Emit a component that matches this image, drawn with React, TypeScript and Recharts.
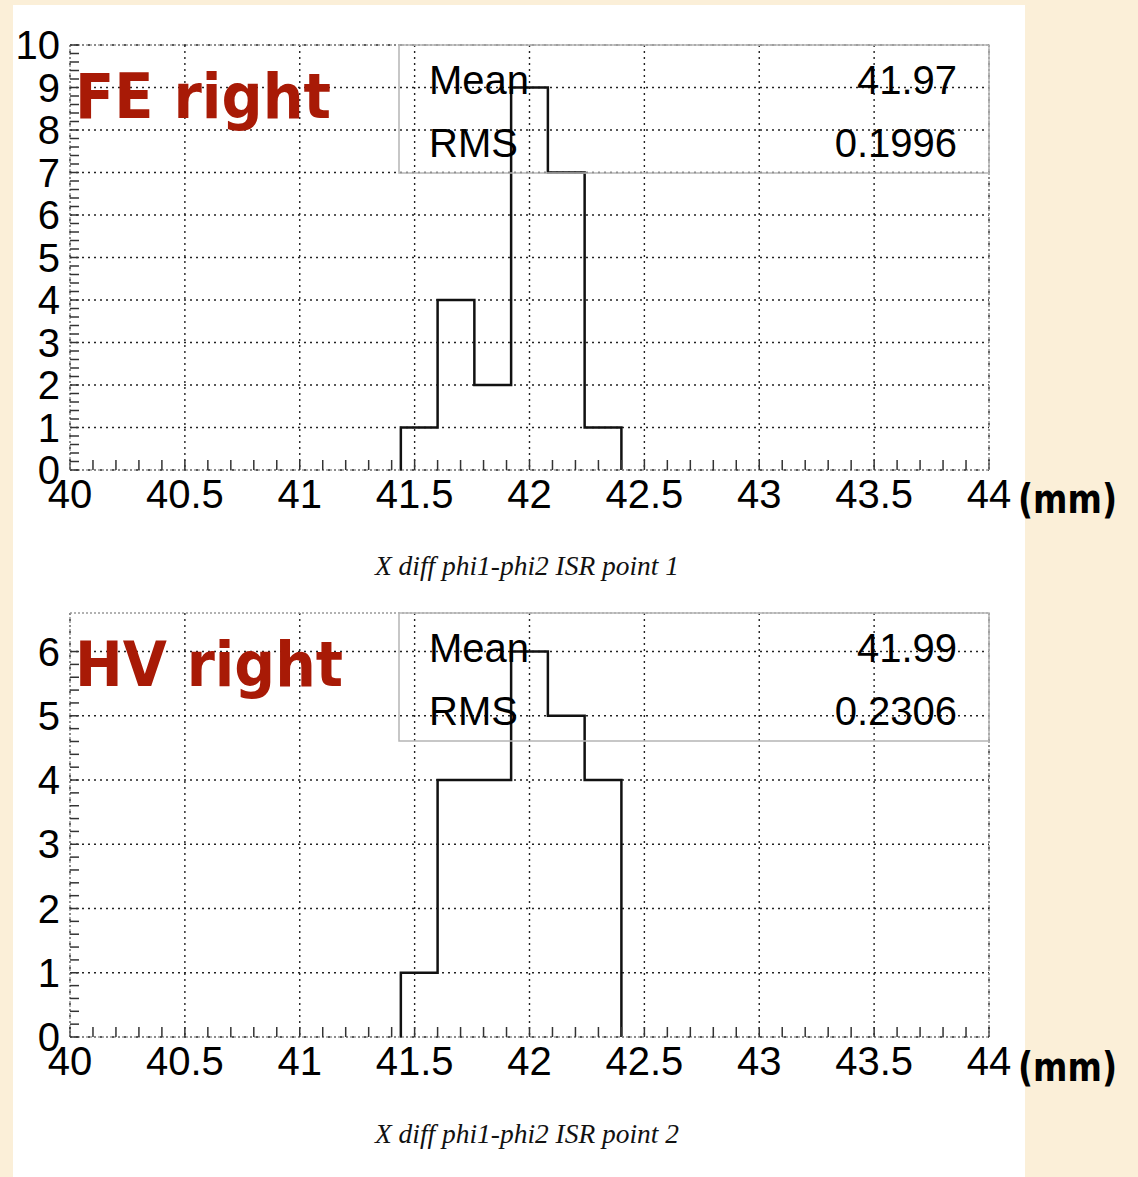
import { ComposedChart, Line, XAxis, YAxis, CartesianGrid } from "recharts";

// histogram bins that hold entries (bin width 0.16 mm, range 40-44)
const binEdges = [41.44, 41.6, 41.76, 41.92, 42.08, 42.24, 42.4];
const countsFE = [1, 4, 2, 9, 7, 1];
const countsHV = [1, 4, 4, 6, 5, 4];

const xTicks = [40, 40.5, 41, 41.5, 42, 42.5, 43, 43.5, 44];
const yTicksFE = [0, 1, 2, 3, 4, 5, 6, 7, 8, 9, 10];
const yTicksHV = [0, 1, 2, 3, 4, 5, 6];

const statsFE = { mean: "41.97", rms: "0.1996" };
const statsHV = { mean: "41.99", rms: "0.2306" };

const W = 1138;
const H = 600;
const GRID = "#222";
const FRAME = "#999";

function range(a: number, b: number, step: number) {
  const out: number[] = [];
  for (let v = a; v <= b + 1e-9; v += step) out.push(Math.round(v * 100) / 100);
  return out;
}

function stepPoints(edges: number[], counts: number[]) {
  const pts = [{ x: edges[0], y: 0 }];
  counts.forEach((c, i) => pts.push({ x: edges[i], y: c }));
  pts.push({ x: edges[edges.length - 1], y: 0 });
  return pts;
}

type HistProps = {
  counts: number[];
  yMax: number;
  yTicks: number[];
  label: string;
  title: string;
  stats: { mean: string; rms: string };
  top: number;
  marginBottom: number;
};

const tickFont = { fill: "#000", fontSize: 40, fontFamily: "'Liberation Sans', Arial, sans-serif" };
const noLabel = () => <g />;
const xMinor = range(40, 44, 0.1);
const xLabel = (v: number) => (xTicks.some((t) => Math.abs(t - v) < 1e-6) ? String(v) : "");

function Hist({ counts, yMax, yTicks, label, title, stats, top, marginBottom }: HistProps) {
  const data = stepPoints(binEdges, counts);
  return (
    <div style={{ position: "absolute", left: 0, top, width: W, height: H }}>
      <ComposedChart
        width={W}
        height={H}
        data={data}
        margin={{ top: 44, right: 148, bottom: marginBottom, left: 69 }}
      >
        <CartesianGrid
          stroke={GRID}
          strokeDasharray="2 4"
          strokeWidth={1.4}
          horizontalValues={yTicks}
          verticalValues={xTicks}
        />
        <XAxis
          dataKey="x"
          type="number"
          domain={[40, 44]}
          ticks={xMinor}
          tickFormatter={xLabel}
          interval={0}
          height={1}
          tickSize={-10}
          tickMargin={20}
          tickLine={{ stroke: "#333", strokeWidth: 1.5 }}
          tick={tickFont}
          axisLine={{ stroke: FRAME, strokeDasharray: "2 2", strokeWidth: 1.5 }}
          allowDataOverflow
        />
        <XAxis
          xAxisId="frame"
          orientation="top"
          type="number"
          domain={[40, 44]}
          height={1}
          tick={false}
          tickLine={false}
          axisLine={{ stroke: FRAME, strokeDasharray: "2 2", strokeWidth: 1.5 }}
          allowDataOverflow
        />
        <YAxis
          type="number"
          domain={[0, yMax]}
          ticks={yTicks}
          interval={0}
          width={1}
          tickLine={false}
          tickSize={0}
          tickMargin={10}
          tick={tickFont}
          axisLine={{ stroke: FRAME, strokeDasharray: "2 2", strokeWidth: 1.5 }}
          allowDataOverflow
        />
        <YAxis
          yAxisId="minor"
          type="number"
          domain={[0, yMax]}
          ticks={range(0, Math.floor(yMax), 0.2)}
          interval={0}
          width={1}
          mirror
          tick={noLabel}
          tickSize={9}
          tickLine={{ stroke: "#333", strokeWidth: 1.5 }}
          axisLine={false}
          allowDataOverflow
        />
        <YAxis
          yAxisId="frame"
          orientation="right"
          type="number"
          domain={[0, yMax]}
          width={1}
          tick={false}
          tickLine={false}
          axisLine={{ stroke: FRAME, strokeDasharray: "2 2", strokeWidth: 1.5 }}
          allowDataOverflow
        />
        <Line
          type="stepAfter"
          dataKey="y"
          stroke="#111"
          strokeWidth={2.5}
          dot={false}
          isAnimationActive={false}
        />
      </ComposedChart>
      <svg
        width={W}
        height={H}
        style={{ position: "absolute", left: 0, top: 0, pointerEvents: "none" }}
      >
        <rect x={399} y={45} width={590} height={128} fill="none" stroke="#b5b5b5" strokeWidth={1.5} />
        <g fontFamily="'Liberation Sans', Arial, sans-serif" fontSize={40} fill="#000">
          <text x={429} y={94}>Mean</text>
          <text x={429} y={157}>RMS</text>
          <text x={957} y={94} textAnchor="end">{stats.mean}</text>
          <text x={957} y={157} textAnchor="end">{stats.rms}</text>
        </g>
        <text
          x={75}
          y={118}
          fontFamily="'Comic Sans MS', 'DejaVu Sans', sans-serif"
          fontWeight="bold"
          fontSize={62}
          fill="#a81a06"
          textLength={label.startsWith("FE") ? 256 : 268}
          lengthAdjust="spacingAndGlyphs"
        >
          {label}
        </text>
        <text
          x={1018}
          y={513}
          fontFamily="'Comic Sans MS', 'DejaVu Sans', sans-serif"
          fontWeight="bold"
          fontSize={40}
          fill="#000"
          textLength={99}
          lengthAdjust="spacingAndGlyphs"
        >
          (mm)
        </text>
        <text
          x={527}
          y={575}
          textAnchor="middle"
          fontFamily="'Liberation Serif', 'Times New Roman', serif"
          fontStyle="italic"
          fontSize={27}
          fill="#111"
          textLength={304}
          lengthAdjust="spacingAndGlyphs"
        >
          {title}
        </text>
      </svg>
    </div>
  );
}

export default function App() {
  return (
    <div
      style={{
        position: "absolute",
        left: 0,
        top: 0,
        width: 1138,
        height: 1177,
        background: "#fbefd8",
        overflow: "hidden",
      }}
    >
      <div
        style={{ position: "absolute", left: 13, top: 5, width: 1012, height: 1172, background: "#fff" }}
      />
      <Hist
        counts={countsFE}
        yMax={10}
        yTicks={yTicksFE}
        label="FE right"
        title="X diff phi1-phi2 ISR point 1"
        stats={statsFE}
        top={0}
        marginBottom={129}
      />
      <Hist
        counts={countsHV}
        yMax={6.6}
        yTicks={yTicksHV}
        label="HV right"
        title="X diff phi1-phi2 ISR point 2"
        stats={statsHV}
        top={568}
        marginBottom={130}
      />
    </div>
  );
}
